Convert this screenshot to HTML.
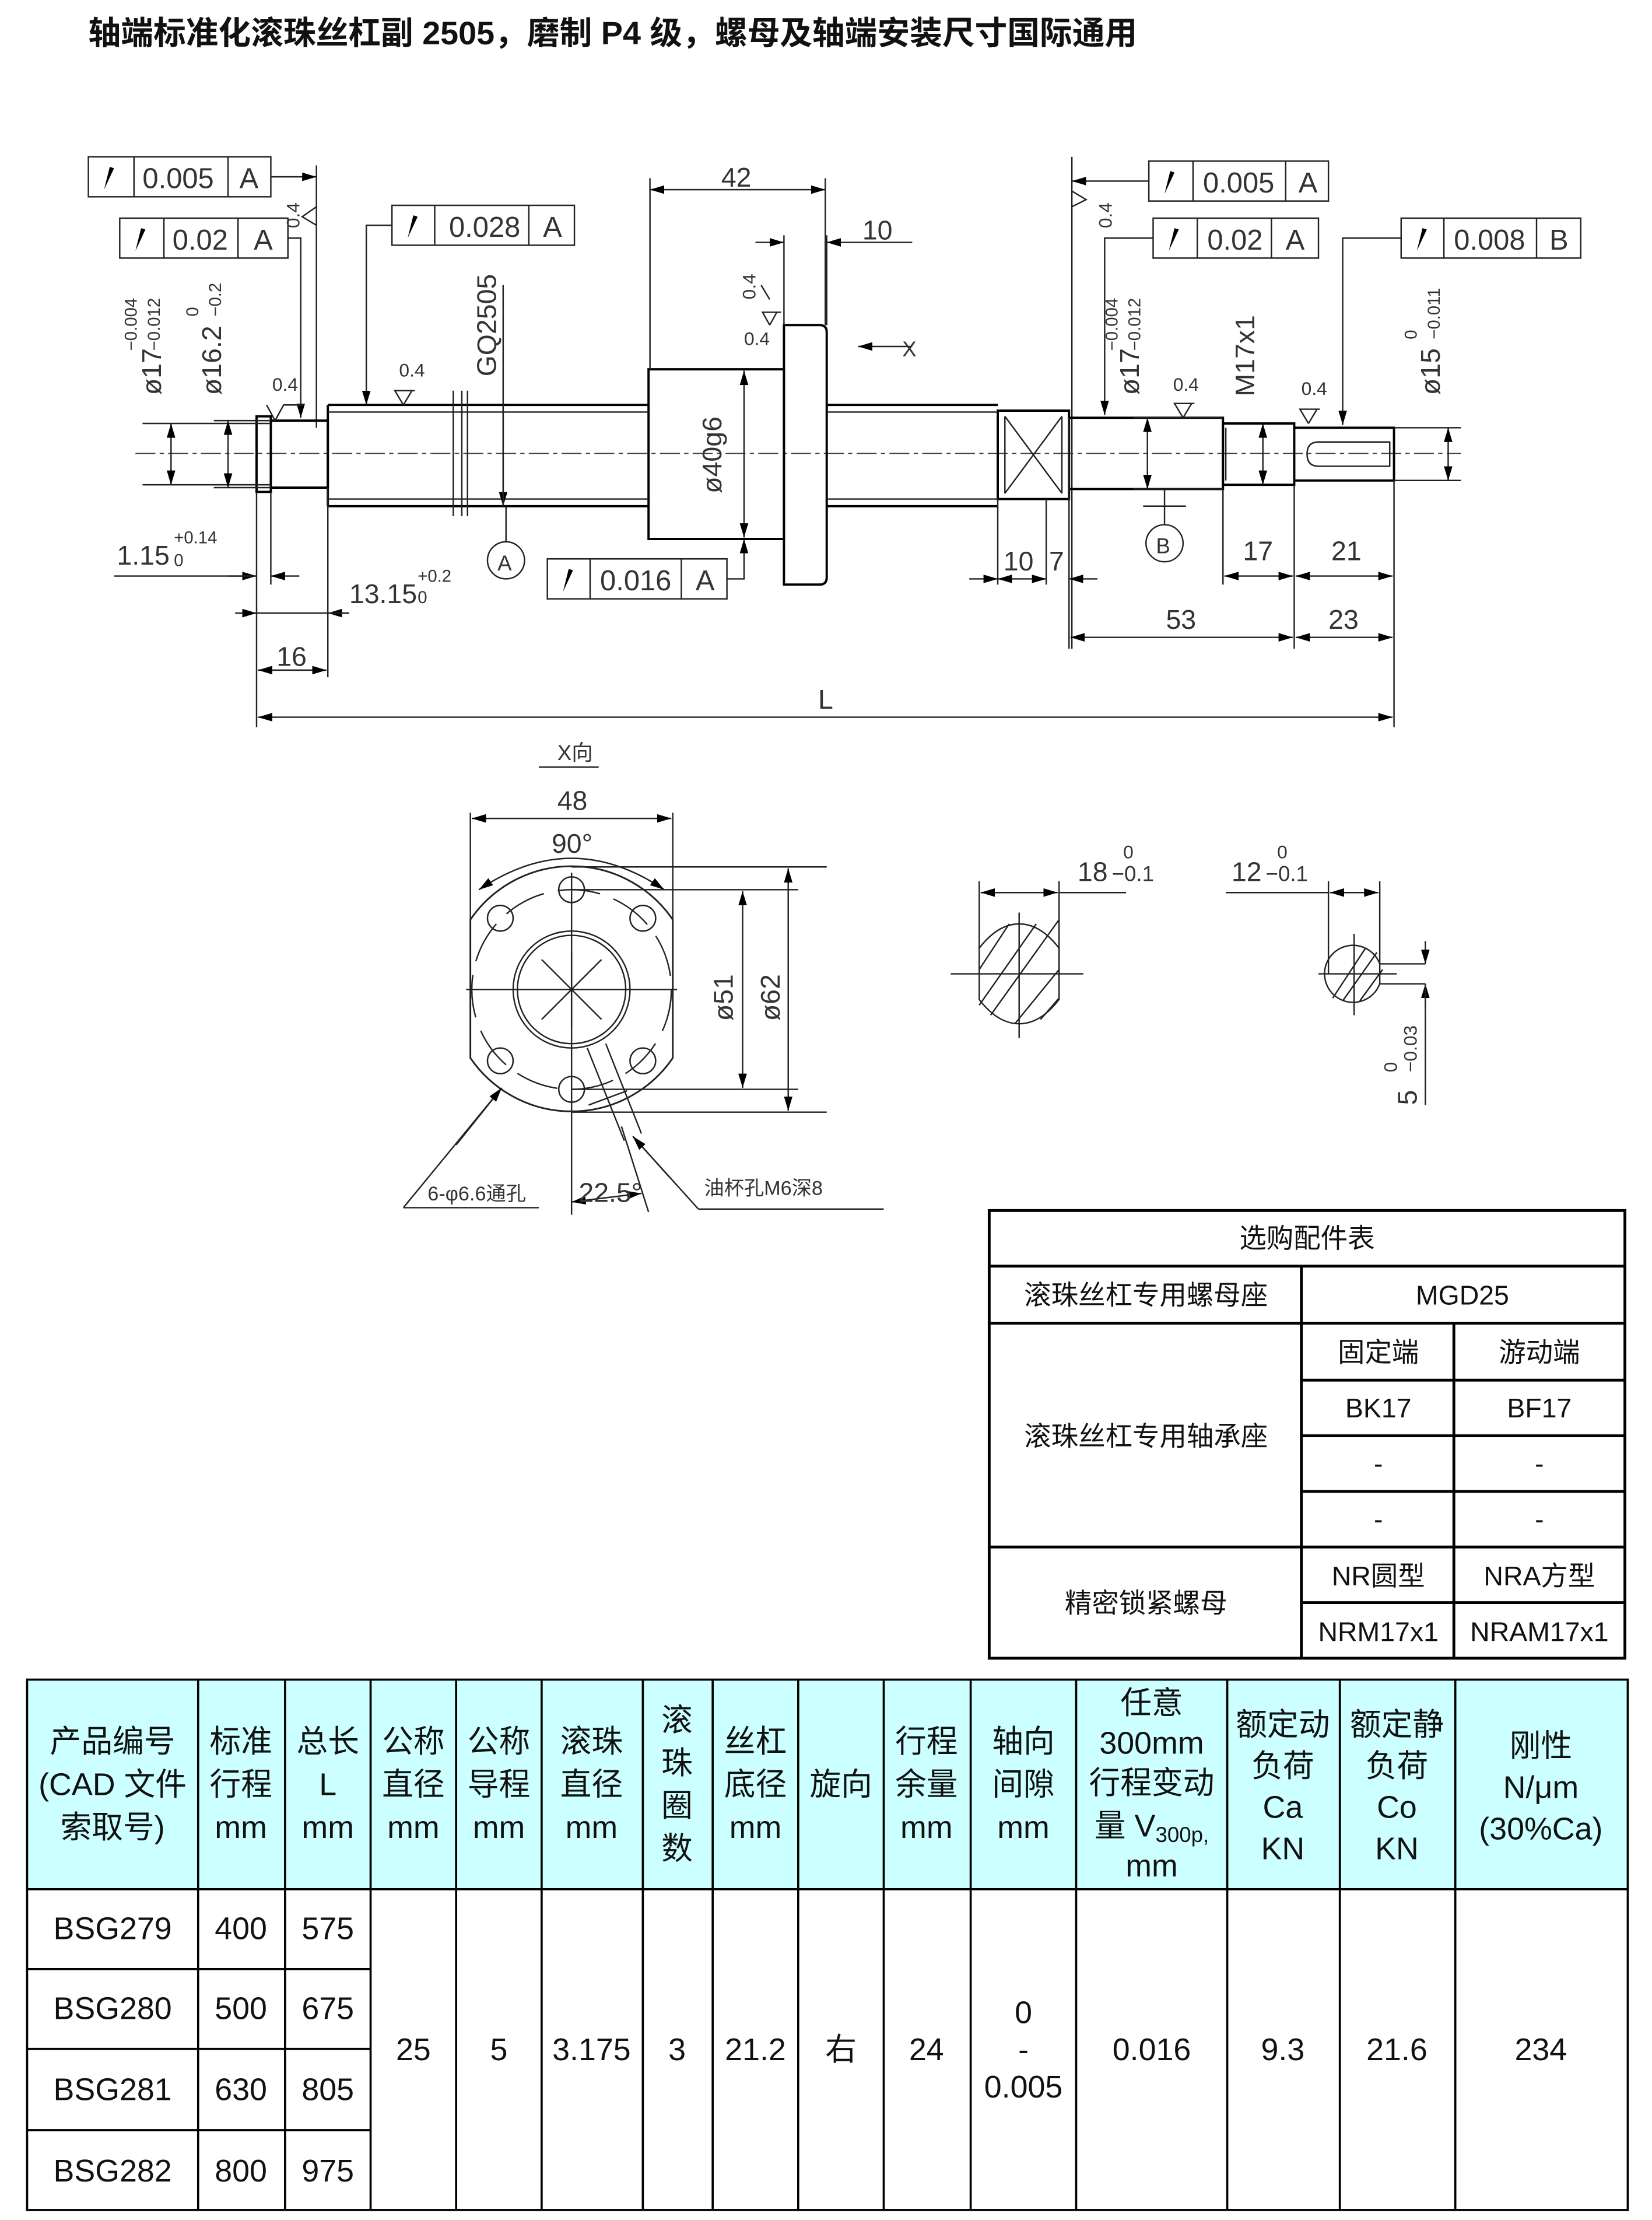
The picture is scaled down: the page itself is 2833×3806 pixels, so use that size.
<!DOCTYPE html>
<html><head><meta charset="utf-8"><style>
html,body{margin:0;padding:0;background:#fff}
svg{display:block}
.d{font-family:"Liberation Sans Narrow","Liberation Sans","Noto Sans CJK SC",sans-serif;font-size:20px;fill:#333}
.c{font-family:"Liberation Sans","Noto Sans CJK SC",sans-serif;fill:#111}
.l{stroke:#222;stroke-width:1;fill:none}
.cl{stroke:#444;stroke-width:.8;fill:none;stroke-dasharray:14 3 3 3}
.t{stroke:#000;stroke-width:1.6;fill:none}
</style></head><body>
<svg width="2833" height="3806" viewBox="0 0 1159 1557" preserveAspectRatio="none" xmlns="http://www.w3.org/2000/svg">
<defs>
<marker id="a" viewBox="0 0 10 6" refX="10" refY="3" markerWidth="10" markerHeight="6" orient="auto-start-reverse" markerUnits="userSpaceOnUse"><path d="M0,0L10,3L0,6z" fill="#000"/></marker>
</defs>
<text x="62" y="31" class="c" font-size="22.8" font-weight="bold">轴端标准化滚珠丝杠副 2505，磨制 P4 级，螺母及轴端安装尺寸国际通用</text>

<!-- tolerance frames -->
<g class="l">
<rect x="62" y="110" width="128" height="28"/><path d="M94 110V138M160 110V138"/>
<rect x="84" y="153" width="118" height="28"/><path d="M115 153V181M167 153V181"/>
<rect x="275" y="144" width="128" height="28"/><path d="M305 144V172M371 144V172"/>
<rect x="384" y="392" width="126" height="28"/><path d="M414 392V420M478 392V420"/>
<rect x="806" y="113" width="126" height="28"/><path d="M837 113V141M902 113V141"/>
<rect x="809" y="153" width="116" height="28"/><path d="M840 153V181M892 153V181"/>
<rect x="983" y="153" width="126" height="28"/><path d="M1013 153V181M1078 153V181"/>
<path d="M190 124H222" marker-end="url(#a)"/><path d="M222 116V300"/>
<path d="M202 167H211V293" marker-end="url(#a)"/>
<path d="M275 158H257V284" marker-end="url(#a)"/>
<path d="M510 406H522V378" marker-end="url(#a)"/>
<path d="M806 127H752" marker-end="url(#a)"/><path d="M752 110V455"/>
<path d="M809 167H775V291" marker-end="url(#a)"/>
<path d="M983 167H942V298" marker-end="url(#a)"/>
</g>
<g class="d">
<text x="100" y="132">0.005</text><text x="168" y="132">A</text>
<text x="121" y="175">0.02</text><text x="178" y="175">A</text>
<text x="315" y="166">0.028</text><text x="381" y="166">A</text>
<text x="421" y="414">0.016</text><text x="488" y="414">A</text>
<text x="844" y="135">0.005</text><text x="911" y="135">A</text>
<text x="847" y="175">0.02</text><text x="902" y="175">A</text>
<text x="1020" y="175">0.008</text><text x="1087" y="175">B</text>
</g>
<g fill="#000">
<path d="M73 133L77 117L80 118z"/><path d="M95 176L99 160L102 161z"/><path d="M286 167L290 151L293 152z"/>
<path d="M395 415L399 399L402 400z"/><path d="M817 136L821 120L824 121z"/><path d="M820 176L824 160L827 161z"/><path d="M994 176L998 160L1001 161z"/>
</g>

<!-- shaft -->
<path class="cl" d="M95 318H1025"/>
<g class="t">
<path d="M180 292H190V345H180z"/>
<path d="M190 295H230V342H190"/>
<path d="M230 284H455M230 355H455M230 284V355"/>
<path d="M455 259H550V378H455z"/>
<path d="M550 228H575Q580 228 580 233V405Q580 410 575 410H550z"/>
<path d="M580 284H700M580 355H700"/>
<path d="M700 288H750V350H700z"/>
<path d="M750 293H858V343H750"/>
<path d="M858 297H908V340H858z"/>
<path d="M908 300H978V337H908"/>
</g>
<g class="l">
<path d="M230 289H455M230 350H455M580 289H700M580 350H700"/>
<path d="M705 292L745 346M745 292L705 346M705 292V346M745 292V346"/>
<path d="M925 310H975V327H925Q917 327 917 318.5Q917 310 925 310"/>
<path d="M318 274V362M324 274V362M328 274V362"/>
<path d="M860 300V337"/>
</g>
<!-- dims -->
<g class="l">
<path d="M456 259V125M579 228V125"/><path d="M456 133H579" marker-start="url(#a)" marker-end="url(#a)"/>
<path d="M550 228V165M580 228V165"/><path d="M530 170H550" marker-end="url(#a)"/><path d="M640 170H580" marker-end="url(#a)"/>
<path d="M522 260V377" marker-start="url(#a)" marker-end="url(#a)"/>
<path d="M100 297H190M100 340H190"/><path d="M120 297V340" marker-start="url(#a)" marker-end="url(#a)"/>
<path d="M150 295H190M150 342H190"/><path d="M160 295V342" marker-start="url(#a)" marker-end="url(#a)"/>
<path d="M353 200V355" marker-end="url(#a)"/><path d="M353 284V355"/>
<path d="M180 345V510M190 345V410M230 342V475M978 337V510"/>
<path d="M160 404H180" marker-end="url(#a)"/><path d="M210 404H190" marker-end="url(#a)"/><path d="M80 404H180"/>
<path d="M165 430H180" marker-end="url(#a)"/><path d="M245 430H230" marker-end="url(#a)"/><path d="M180 430H245"/>
<path d="M181 470H229" marker-start="url(#a)" marker-end="url(#a)"/>
<path d="M181 503H977" marker-start="url(#a)" marker-end="url(#a)"/>
<path d="M355 355V380"/><circle cx="355" cy="393" r="13"/>
<path d="M817 343V368"/><circle cx="817" cy="381" r="13"/><path d="M802 355H832"/>
<path d="M640 243H602" marker-end="url(#a)"/>
<path d="M700 350V410M734 350V410"/><path d="M680 406H700" marker-end="url(#a)"/><path d="M700 406H734" marker-start="url(#a)" marker-end="url(#a)"/><path d="M770 406H750" marker-end="url(#a)"/>
<path d="M750 293V455"/>
<path d="M858 343V410M908 340V455"/><path d="M859 404H907" marker-start="url(#a)" marker-end="url(#a)"/>
<path d="M909 404H977" marker-start="url(#a)" marker-end="url(#a)"/>
<path d="M751 447H907" marker-start="url(#a)" marker-end="url(#a)"/>
<path d="M909 447H977" marker-start="url(#a)" marker-end="url(#a)"/>
<path d="M805 293V343" marker-start="url(#a)" marker-end="url(#a)"/><path d="M795 293H858M795 343H858"/>
<path d="M886 297V340" marker-start="url(#a)" marker-end="url(#a)"/>
<path d="M978 300H1025M978 337H1025"/><path d="M1016 300V337" marker-start="url(#a)" marker-end="url(#a)"/>
<path d="M193 295L199 284H213M193 295L187 284M540 228L535 219H548M540 228L545 219M540 210L534 200M830 293L824 283H838M830 293L836 283M918 297L912 287H926M918 297L924 287M283 284L277 274H291M283 284L289 274"/>
<path d="M222 145L212 152L222 158M752 145L762 140L752 134"/>
</g>
<g class="d">
<text x="506" y="131" font-size="19">42</text>
<text x="605" y="168" font-size="19">10</text>
<text transform="translate(506,346) rotate(-90)" font-size="19">ø40g6</text>
<text transform="translate(113,277) rotate(-90)" font-size="19">ø17</text>
<text transform="translate(96,246) rotate(-90)" font-size="12">−0.004</text>
<text transform="translate(112,246) rotate(-90)" font-size="12">−0.012</text>
<text transform="translate(155,277) rotate(-90)" font-size="19">ø16.2</text>
<text transform="translate(139,222) rotate(-90)" font-size="12">0</text>
<text transform="translate(155,222) rotate(-90)" font-size="12">−0.2</text>
<text transform="translate(348,264) rotate(-90)" font-size="19">GQ2505</text>
<text x="349" y="400" font-size="15">A</text><text x="811" y="388" font-size="15">B</text>
<text x="82" y="396" font-size="19">1.15</text><text x="122" y="381" font-size="12">+0.14</text><text x="122" y="397" font-size="12">0</text>
<text x="245" y="423" font-size="19">13.15</text><text x="293" y="408" font-size="12">+0.2</text><text x="293" y="423" font-size="12">0</text>
<text x="194" y="467" font-size="19">16</text>
<text x="574" y="497" font-size="19">L</text>
<text x="633" y="250" font-size="15">X</text>
<text x="704" y="400" font-size="19">10</text><text x="736" y="400" font-size="19">7</text>
<text x="872" y="393" font-size="19">17</text><text x="934" y="393" font-size="19">21</text>
<text x="818" y="441" font-size="19">53</text><text x="932" y="441" font-size="19">23</text>
<text transform="translate(799,277) rotate(-90)" font-size="19">ø17</text>
<text transform="translate(784,246) rotate(-90)" font-size="12">−0.004</text>
<text transform="translate(800,246) rotate(-90)" font-size="12">−0.012</text>
<text transform="translate(880,278) rotate(-90)" font-size="19">M17x1</text>
<text transform="translate(1010,277) rotate(-90)" font-size="19">ø15</text>
<text transform="translate(994,238) rotate(-90)" font-size="12">0</text>
<text transform="translate(1010,238) rotate(-90)" font-size="12">−0.011</text>
<text x="191" y="274" font-size="13">0.4</text><text x="280" y="264" font-size="13">0.4</text><text x="522" y="242" font-size="13">0.4</text>
<text x="823" y="274" font-size="13">0.4</text><text x="913" y="277" font-size="13">0.4</text>
<text transform="translate(530,210) rotate(-90)" font-size="13">0.4</text>
<text transform="translate(210,160) rotate(-90)" font-size="13">0.4</text>
<text transform="translate(780,160) rotate(-90)" font-size="13">0.4</text>
</g>

<!-- flange view -->
<g class="l">
<path d="M330 645A86 86 0 0 1 472 645V742A86 86 0 0 1 330 742Z" stroke-width="1.2"/>
<circle cx="401" cy="694" r="70" stroke-dasharray="30 10"/>
<circle cx="401" cy="694" r="41"/><circle cx="401" cy="694" r="38"/>
<circle cx="401" cy="624" r="9"/><circle cx="401" cy="764" r="9"/>
<circle cx="351" cy="644" r="9"/><circle cx="451" cy="644" r="9"/>
<circle cx="351" cy="744" r="9"/><circle cx="451" cy="744" r="9"/>
<path d="M380 673L422 715M422 673L380 715M401 668V720"/>
<path d="M412 735L438 800M425 732L450 795M413 775L440 765"/>
<path d="M330 570V645M472 570V645"/><path d="M331 574H471" marker-start="url(#a)" marker-end="url(#a)"/>
<path d="M336 624Q401 580 466 624" marker-start="url(#a)" marker-end="url(#a)"/>
<path d="M401 624H560M401 764H560M401 608H580M401 780H580"/>
<path d="M521 625V763" marker-start="url(#a)" marker-end="url(#a)"/>
<path d="M553 609V779" marker-start="url(#a)" marker-end="url(#a)"/>
<path d="M401 612V852M327 694H475"/>
<path d="M378 538H420"/>
<path d="M283 847H378M283 847L352 763" /><path d="M320 803L352 763" marker-end="url(#a)"/>
<path d="M401 843L450 837" marker-start="url(#a)" marker-end="url(#a)"/><path d="M436 790L455 850"/>
<path d="M490 848H620M490 848L444 797"/><path d="M470 826L444 797" marker-end="url(#a)"/>
</g>
<g class="d">
<text x="391" y="533" font-size="15">X向</text>
<text x="391" y="568" font-size="19">48</text>
<text x="387" y="598" font-size="19">90°</text>
<text transform="translate(514,716) rotate(-90)" font-size="19">ø51</text>
<text transform="translate(547,716) rotate(-90)" font-size="19">ø62</text>
<text x="300" y="842" font-size="14">6-φ6.6通孔</text>
<text x="406" y="843" font-size="19">22.5°</text>
<text x="494" y="838" font-size="14">油杯孔M6深8</text>
</g>

<!-- sections -->
<g class="l">
<path d="M687 665Q700 648 715 648Q730 648 743 665V701Q730 718 715 718Q700 718 687 701Z"/>
<path d="M687 680L708 648M687 705L727 648M695 712L743 645M712 718L743 680M730 715L743 700"/>
<path d="M667 683H760M715 640V728"/>
<path d="M687 618V665M743 618V683"/><path d="M688 626H742" marker-start="url(#a)" marker-end="url(#a)"/><path d="M743 626H790"/>
<path d="M968 676A20 20 0 1 0 968 690H1000M968 676H1000M968 676V690"/>
<path d="M935 700L958 665M942 702L966 668M954 702L970 680"/>
<path d="M925 683H980M950 655V712"/>
<path d="M932 618V683M968 618V676"/><path d="M933 626H967" marker-start="url(#a)" marker-end="url(#a)"/><path d="M860 626H932"/>
<path d="M1000 660V676" marker-end="url(#a)"/><path d="M1000 708V690" marker-end="url(#a)"/><path d="M1000 690V775"/>
</g>
<g class="d">
<text x="756" y="618" font-size="19">18</text><text x="788" y="602" font-size="13">0</text><text x="780" y="618" font-size="15">−0.1</text>
<text x="864" y="618" font-size="19">12</text><text x="896" y="602" font-size="13">0</text><text x="888" y="618" font-size="15">−0.1</text>
<text transform="translate(994,775) rotate(-90)" font-size="19">5</text>
<text transform="translate(980,752) rotate(-90)" font-size="13">0</text>
<text transform="translate(994,752) rotate(-90)" font-size="13">−0.03</text>
</g>

<!-- accessory table -->
<g stroke="#000" stroke-width="2" fill="none">
<rect x="694" y="849" width="446" height="314"/>
<path d="M694 888H1140M694 928H1140M913 968H1140M913 1007H1140M913 1046H1140M694 1085H1140M913 1124H1140"/>
<path d="M913 888V1163M1020 928V1163"/>
</g>
<g class="c" font-size="19" text-anchor="middle">
<text x="917" y="875">选购配件表</text>
<text x="804" y="915">滚珠丝杠专用螺母座</text>
<text x="1026" y="915">MGD25</text>
<text x="967" y="955">固定端</text><text x="1080" y="955">游动端</text>
<text x="967" y="994">BK17</text><text x="1080" y="994">BF17</text>
<text x="804" y="1014">滚珠丝杠专用轴承座</text>
<text x="967" y="1033">-</text><text x="1080" y="1033">-</text>
<text x="967" y="1072">-</text><text x="1080" y="1072">-</text>
<text x="804" y="1131">精密锁紧螺母</text>
<text x="967" y="1112">NR圆型</text><text x="1080" y="1112">NRA方型</text>
<text x="967" y="1151">NRM17x1</text><text x="1080" y="1151">NRAM17x1</text>
</g>

<!-- main table -->
<rect x="19" y="1178" width="1123" height="147" fill="#ccffff"/>
<g stroke="#000" stroke-width="1.5" fill="none">
<rect x="19" y="1178" width="1123" height="372"/>
<path d="M19 1325H1142M19 1381H260M19 1437H260M19 1494H260"/>
<path d="M139 1178V1550M200 1178V1550M260 1178V1550M320 1178V1550M380 1178V1550M451 1178V1550M500 1178V1550M560 1178V1550M620 1178V1550M681 1178V1550M755 1178V1550M861 1178V1550M940 1178V1550M1021 1178V1550"/>
</g>
<g class="c" font-size="22" text-anchor="middle">
<text x="79" y="1229">产品编号</text><text x="79" y="1259">(CAD 文件</text><text x="79" y="1289">索取号)</text>
<text x="169" y="1229">标准</text><text x="169" y="1259">行程</text><text x="169" y="1289">mm</text>
<text x="230" y="1229">总长</text><text x="230" y="1259">L</text><text x="230" y="1289">mm</text>
<text x="290" y="1229">公称</text><text x="290" y="1259">直径</text><text x="290" y="1289">mm</text>
<text x="350" y="1229">公称</text><text x="350" y="1259">导程</text><text x="350" y="1289">mm</text>
<text x="415" y="1229">滚珠</text><text x="415" y="1259">直径</text><text x="415" y="1289">mm</text>
<text x="475" y="1214">滚</text><text x="475" y="1244">珠</text><text x="475" y="1274">圈</text><text x="475" y="1304">数</text>
<text x="530" y="1229">丝杠</text><text x="530" y="1259">底径</text><text x="530" y="1289">mm</text>
<text x="590" y="1259">旋向</text>
<text x="650" y="1229">行程</text><text x="650" y="1259">余量</text><text x="650" y="1289">mm</text>
<text x="718" y="1229">轴向</text><text x="718" y="1259">间隙</text><text x="718" y="1289">mm</text>
<text x="808" y="1202">任意</text><text x="808" y="1230">300mm</text><text x="808" y="1258">行程变动</text><text x="808" y="1288">量 V<tspan font-size="15" dy="4">300p,</tspan></text><text x="808" y="1316">mm</text>
<text x="900" y="1217">额定动</text><text x="900" y="1246">负荷</text><text x="900" y="1275">Ca</text><text x="900" y="1304">KN</text>
<text x="980" y="1217">额定静</text><text x="980" y="1246">负荷</text><text x="980" y="1275">Co</text><text x="980" y="1304">KN</text>
<text x="1081" y="1232">刚性</text><text x="1081" y="1261">N/μm</text><text x="1081" y="1290">(30%Ca)</text>
<text x="79" y="1360">BSG279</text><text x="169" y="1360">400</text><text x="230" y="1360">575</text>
<text x="79" y="1416">BSG280</text><text x="169" y="1416">500</text><text x="230" y="1416">675</text>
<text x="79" y="1473">BSG281</text><text x="169" y="1473">630</text><text x="230" y="1473">805</text>
<text x="79" y="1530">BSG282</text><text x="169" y="1530">800</text><text x="230" y="1530">975</text>
<text x="290" y="1445">25</text><text x="350" y="1445">5</text><text x="415" y="1445">3.175</text><text x="475" y="1445">3</text>
<text x="530" y="1445">21.2</text><text x="590" y="1445">右</text><text x="650" y="1445">24</text>
<text x="718" y="1419">0</text><text x="718" y="1445">-</text><text x="718" y="1471">0.005</text>
<text x="808" y="1445">0.016</text><text x="900" y="1445">9.3</text><text x="980" y="1445">21.6</text><text x="1081" y="1445">234</text>
</g>
</svg>
</body></html>
